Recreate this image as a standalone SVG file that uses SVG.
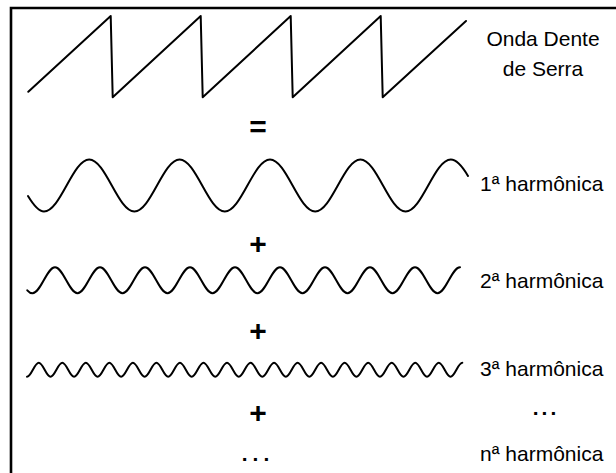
<svg xmlns="http://www.w3.org/2000/svg" width="616" height="473" viewBox="0 0 616 473">
<style>
.w{fill:none;stroke:#000;stroke-width:2;stroke-linejoin:round;stroke-linecap:round}
.t{font-family:"Liberation Sans",Arial,sans-serif;font-size:21px;fill:#000}
.op{font-family:"Liberation Sans",Arial,sans-serif;font-size:30px;font-weight:bold;fill:#000;text-anchor:middle}
</style>
<rect width="616" height="473" fill="#fff"/>
<path d="M11,473 L11,8 L616,8" fill="none" stroke="#000" stroke-width="2.6"/>
<g id="sawtooth">
<path class="w" d="M28.3,91.7 L110.7,16 L112.7,97.3 L200.7,16 L202.7,97.3 L290.7,16 L292.7,97.3 L380.7,16 L382.7,97.3 L466,21"/>
<text class="t" x="543" y="46" text-anchor="middle">Onda Dente</text>
<text class="t" x="543" y="76" text-anchor="middle">de Serra</text>
</g>
<g id="equals"><text class="op" x="258" y="137">=</text></g>
<g id="h1">
<path class="w" d="M28,196 C33.3,204.8 38.7,211.5 44,211.5 C60.43,211.5 72.77,159.5 89.2,159.5 S117.97,211.5 134.4,211.5 S163.17,159.5 179.6,159.5 S208.37,211.5 224.8,211.5 S253.57,159.5 270,159.5 S298.77,211.5 315.2,211.5 S343.97,159.5 360.4,159.5 S389.17,211.5 405.6,211.5 S434.37,159.5 450.8,159.5 C456.5,159.5 462.3,166.3 468,175.9"/>
<text class="t" x="480" y="191">1ª harmônica</text>
</g>
<g id="plus1"><text class="op" x="258" y="254">+</text></g>
<g id="h2">
<path class="w" d="M27.3,290.3 C29,292.3 30.8,293.3 32.5,293.3 C40.68,293.3 46.82,267.3 55,267.3 S69.32,293.3 77.5,293.3 S91.82,267.3 100,267.3 S114.32,293.3 122.5,293.3 S136.82,267.3 145,267.3 S159.32,293.3 167.5,293.3 S181.82,267.3 190,267.3 S204.32,293.3 212.5,293.3 S226.82,267.3 235,267.3 S249.32,293.3 257.5,293.3 S271.82,267.3 280,267.3 S294.32,293.3 302.5,293.3 S316.82,267.3 325,267.3 S339.32,293.3 347.5,293.3 S361.82,267.3 370,267.3 S384.32,293.3 392.5,293.3 S406.82,267.3 415,267.3 S429.32,293.3 437.5,293.3 S451.82,267.3 460,267.3"/>
<text class="t" x="480" y="288">2ª harmônica</text>
</g>
<g id="plus2"><text class="op" x="258" y="341">+</text></g>
<g id="h3">
<path class="w" d="M27,376.7 C31.28,376.7 34.49,362.7 38.77,362.7 S46.25,376.7 50.53,376.7 S58.02,362.7 62.3,362.7 S69.78,376.7 74.06,376.7 S81.55,362.7 85.83,362.7 S93.31,376.7 97.59,376.7 S105.08,362.7 109.36,362.7 S116.84,376.7 121.12,376.7 S128.61,362.7 132.89,362.7 S140.37,376.7 144.65,376.7 S152.14,362.7 156.42,362.7 S163.9,376.7 168.18,376.7 S175.67,362.7 179.95,362.7 S187.43,376.7 191.71,376.7 S199.2,362.7 203.48,362.7 S210.96,376.7 215.24,376.7 S222.73,362.7 227.01,362.7 S234.49,376.7 238.77,376.7 S246.26,362.7 250.54,362.7 S258.02,376.7 262.3,376.7 S269.79,362.7 274.07,362.7 S281.55,376.7 285.83,376.7 S293.32,362.7 297.6,362.7 S305.08,376.7 309.36,376.7 S316.85,362.7 321.13,362.7 S328.61,376.7 332.89,376.7 S340.38,362.7 344.66,362.7 S352.14,376.7 356.42,376.7 S363.91,362.7 368.19,362.7 S375.67,376.7 379.95,376.7 S387.44,362.7 391.72,362.7 S399.2,376.7 403.48,376.7 S410.97,362.7 415.25,362.7 S422.73,376.7 427.01,376.7 S434.5,362.7 438.78,362.7 S446.26,376.7 450.54,376.7 S458.03,362.7 462.31,362.7"/>
<text class="t" x="480" y="376">3ª harmônica</text>
</g>
<g id="plus3"><text class="op" x="258" y="423">+</text></g>
<g id="dots-right"><text class="t" x="546" y="415" text-anchor="middle" font-weight="bold" letter-spacing="3">...</text></g>
<g id="hn">
<text class="t" x="258" y="461" text-anchor="middle" font-weight="bold" letter-spacing="5">...</text>
<text class="t" x="480" y="461">nª harmônica</text>
</g>
</svg>
